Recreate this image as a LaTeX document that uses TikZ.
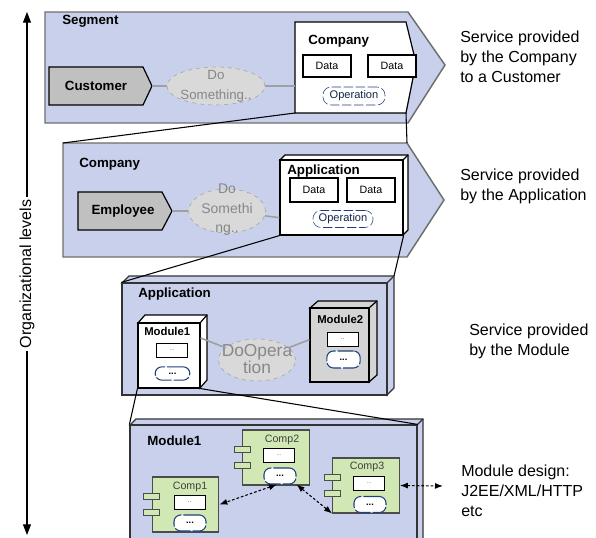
\documentclass[tikz,border=0pt]{standalone}
\usepackage{fontspec}
\setmainfont{Liberation Sans}
\usetikzlibrary{shapes.geometric}
\usetikzlibrary{arrows.meta}

\definecolor{lvlfill}{RGB}{201,208,236}
\definecolor{lvlline}{RGB}{110,110,110}
\definecolor{actfill}{RGB}{192,192,192}
\definecolor{usefill}{RGB}{217,217,217}
\definecolor{useline}{RGB}{160,160,160}
\definecolor{usetext}{RGB}{135,135,135}
\definecolor{opblue}{RGB}{31,63,127}
\definecolor{compfill}{RGB}{210,232,180}
\definecolor{modfill}{RGB}{212,212,212}

\tikzset{
  lvl/.style={draw=lvlline, fill=lvlfill, line width=1.1pt},
  actor/.style={draw=black, fill=actfill, line width=0.9pt},
  whitebox/.style={draw=black, fill=white, line width=0.9pt},
  usecase/.style={ellipse, draw=useline, fill=usefill, dashed, inner sep=0pt},
  usetxt/.style={text=usetext, align=center, inner sep=0pt},
  usel/.style={draw=useline, line width=1.2pt},
  lbl/.style={inner sep=0pt, font=\bfseries\fontsize{10}{12}\selectfont},
  smlbl/.style={inner sep=0pt, font=\bfseries\fontsize{8.5}{10}\selectfont},
  databox/.style={draw=black, fill=white, line width=0.9pt, inner sep=0pt, minimum width=36pt, font=\fontsize{8}{9}\selectfont},
  opbox/.style={draw=opblue, fill=white, rounded corners=6pt, dash pattern=on 7pt off 2pt, inner sep=0pt, text=opblue!60!black, font=\fontsize{8.3}{9}\selectfont},
  dotbox/.style={draw=black, fill=white, line width=0.6pt, inner sep=0pt, minimum width=23.25pt, minimum height=10.5pt, text=usetext, font=\fontsize{6}{6}\selectfont},
  opsmall/.style={draw=opblue, fill=white, rounded corners=5pt, dash pattern=on 12pt off 1.5pt, line width=0.8pt, inner sep=0pt, minimum width=24pt, minimum height=12pt, font=\bfseries\fontsize{7}{7}\selectfont},
  comp/.style={draw=black!70, fill=compfill, line width=0.8pt, inner sep=0pt, minimum width=50pt, minimum height=41.25pt},
  port/.style={draw=black!70, fill=compfill, line width=0.8pt, inner sep=0pt, minimum width=12pt, minimum height=4.5pt},
  comptxt/.style={inner sep=0pt, text=black!75, font=\fontsize{8}{9}\selectfont},
  zoomln/.style={draw=black, line width=0.8pt},
  msg/.style={draw=black, line width=0.8pt, dash pattern=on 2pt off 1.5pt, {Latex[length=6pt,width=4.5pt]}-{Latex[length=6pt,width=4.5pt]}},
  axis/.style={draw=black, line width=0.8pt, -{Triangle[length=8pt,width=6pt]}},
  svc/.style={inner sep=0pt, anchor=north west, align=left, font=\fontsize{12}{15}\selectfont}
}

\begin{document}
\begin{tikzpicture}[x=0.75pt,y=0.75pt,yscale=-1,xscale=1]
	\useasboundingbox (0,0) rectangle (596,538);
	\clip (0,0) rectangle (596,538);

	% Axis
	\coordinate (axtop) at (27,12);
	\coordinate (axbot) at (27,535);
	\node[rotate=90, inner sep=2pt, font=\fontsize{12}{14}\selectfont] (axlbl) at (27,274) {Organizational levels};
	\draw[axis] (axlbl.east) -- (axtop);
	\draw[axis] (axlbl.west) -- (axbot);

	%Segment level
	\draw[lvl] (45,12) -- (408,12) -- (445,65) -- (408,123) -- (45,123) -- cycle;
	\node[lbl, anchor=base west] (seglbl) at (62,25) {Segment};
	\draw[actor] (49,67) -- (143,67) -- (152,86) coordinate (custtip) -- (143,105) -- (49,105) -- cycle;
	\node[lbl] (cust) at (96,86) {Customer};
	\node[usecase, minimum width=73.5pt, minimum height=28.5pt] (ds1) at (216,86) {};
	\node[usetxt, font=\fontsize{10}{15}\selectfont] (ds1txt) at (ds1) {Do\\Something..};
	\draw[whitebox] (295,22) -- (406,22) -- (416,63) -- (406,113) coordinate (cose) -- (295,113) coordinate (cosw) -- cycle;
	\coordinate (cow) at (295,86);
	\node[lbl, anchor=base west] (colbl) at (308,45) {Company};
	\node[databox, minimum height=16.5pt] (cod1) at (327,66) {Data};
	\node[databox, minimum height=16.5pt] (cod2) at (392,66) {Data};
	\node[opbox, minimum width=46.5pt, minimum height=13.5pt] (coop) at (354,96) {Operation};
	\draw[usel] (custtip) -- (ds1);
	\draw[usel] (ds1) -- (cow);

	%Company level
	\draw[lvl] (63,143) coordinate (comnw) -- (407,143) coordinate (comne) -- (444,200) -- (407,257) -- (63,257) -- cycle;
	\node[lbl, anchor=base west] (comlbl) at (79,168) {Company};
	\draw[actor] (78,192) -- (162,192) -- (172,211) coordinate (emptip) -- (162,230) -- (78,230) -- cycle;
	\node[lbl] (emp) at (123,211) {Employee};
	\node[usecase, minimum width=57.75pt, minimum height=33pt] (ds2) at (227,211) {};
	\node[usetxt, font=\fontsize{10.5}{14.6}\selectfont] (ds2txt) at (227,210) {Do\\Somethi\\ng..};
	\draw[whitebox] (280,160) -- ++(5,-5) -- ++(123,0) -- ++(0,75) -- (403,235) -- (403,160) -- cycle;
	\draw[whitebox] (403,160) -- ++(5,-5);
	\node[whitebox, inner sep=0pt, minimum width=92.25pt, minimum height=56.25pt] (app) at (341.5,197.5) {};
	\node[lbl, anchor=base west] (applbl) at (287,175) {Application};
	\node[databox, minimum height=18pt] (apd1) at (314,190) {Data};
	\node[databox, minimum height=18pt] (apd2) at (371,190) {Data};
	\node[opbox, minimum width=45pt, minimum height=12.75pt] (apop) at (343,219) {Operation};
	\draw[usel] (emptip) -- (ds2);
	\draw[usel] (ds2) -- (app.198);
	\draw[zoomln] (cosw) -- (comnw);
	\draw[zoomln] (cose) -- (comne);

	%Application level
	\draw[lvl, line width=0.9pt, draw=black!80] (122,283) -- ++(7,-7) -- ++(265,0) coordinate (lv3bne) -- ++(0,112) -- (387,395) -- (387,283) -- cycle;
	\draw[black!80, line width=0.9pt] (387,283) -- ++(7,-7);
	\node[lvl, line width=0.9pt, draw=black!80, inner sep=0pt, minimum width=198.75pt, minimum height=84pt] (lv3) at (254.5,339) {};
	\node[lbl, anchor=base west] (lv3lbl) at (138,297) {Application};
	\draw[zoomln] (app.south west) -- (lv3.north west);
	\draw[zoomln] (app.south east) -- (lv3bne);

	\draw[whitebox] (138,323) -- ++(7,-8) -- ++(62,0) -- ++(0,65) -- (200,388) -- (200,323) -- cycle;
	\draw[whitebox] (200,323) -- ++(7,-8);
	\node[whitebox, inner sep=0pt, minimum width=46.5pt, minimum height=48.75pt] (m1) at (169,355.5) {};
	\node[smlbl, anchor=base west] (m1lbl) at (144,335) {Module1};
	\node[dotbox] (m1d) at (172,350.5) {..};
	\node[opsmall, minimum width=26pt, minimum height=10pt] (m1op) at (172.5,373.5) {...};

	\draw[whitebox, fill=modfill] (310,308) -- ++(8,-7) -- ++(59,0) -- ++(0,74) -- (369,382) -- (369,308) -- cycle;
	\draw[whitebox] (369,308) -- ++(8,-7);
	\node[whitebox, fill=modfill, inner sep=0pt, minimum width=44.25pt, minimum height=55.5pt] (m2) at (339.5,345) {};
	\node[smlbl, anchor=base west] (m2lbl) at (317,324) {Module2};
	\node[dotbox] (m2d) at (342.5,339.5) {..};
	\node[opsmall, minimum width=25pt, minimum height=12.75pt] (m2op) at (343.5,359.5) {...};

	\node[usecase, minimum width=57.75pt, minimum height=31.5pt] (doop) at (257,360) {};
	\node[usetxt, font=\fontsize{13}{12.75}\selectfont] (dooptxt) at (257,359) {DoOpera\\tion};
	\draw[usel] (m1.29) -- (doop);
	\draw[usel] (doop) -- (m2.170);

	%Module level
	\draw[lvl, line width=0.9pt, draw=black!80] (130,425) -- ++(6,-6) -- ++(287,0) -- ++(0,130) -- (417,555) -- (417,425) -- cycle;
	\draw[black!80, line width=0.9pt] (417,425) -- ++(6,-6);
	\node[lvl, line width=0.9pt, draw=black!80, inner sep=0pt, minimum width=215.25pt, minimum height=97.5pt] (lv4) at (273.5,490) {};
	\node[lbl, anchor=base west] (lv4lbl) at (147,445) {Module1};
	\draw[zoomln] (m1.south west) -- (lv4.north west);
	\draw[zoomln] (m1.south east) -- (lv4.north east);

	%Components
	\node[comp] (c1) at (185.5,504.5) {};
	\node[port] (c1p1) at ([yshift=6pt]c1.west) {};
	\node[port] (c1p2) at ([yshift=-6pt]c1.west) {};
	\node[comptxt] (c1lbl) at (190,487) {Comp1};
	\node[dotbox] (c1d) at (189.5,502) {..};
	\node[opsmall] (c1op) at (190,523) {...};

	\node[comp] (c2) at (276,457.5) {};
	\node[port] (c2p1) at ([yshift=6pt]c2.west) {};
	\node[port] (c2p2) at ([yshift=-6pt]c2.west) {};
	\node[comptxt] (c2lbl) at (282,440) {Comp2};
	\node[dotbox] (c2d) at (279,455.5) {..};
	\node[opsmall] (c2op) at (280,476) {...};

	\node[comp] (c3) at (366,485.5) {};
	\node[port] (c3p1) at ([yshift=6pt]c3.west) {};
	\node[port] (c3p2) at ([yshift=-6pt]c3.west) {};
	\node[comptxt] (c3lbl) at (367,467) {Comp3};
	\node[dotbox] (c3d) at (369,483) {..};
	\node[opsmall] (c3op) at (370,504.5) {...};

	\coordinate (ext) at (443,486);
	\draw[msg] (c2op.250) -- (c1.east);
	\draw[msg] (c2op.south east) -- (c3.south west);
	\draw[msg] (c3.east) -- (ext);

	% Text Node
	\node[svc] (svc1) at (460,31) {Service provided\\by the Company\\to a Customer};
	% Text Node
	\node[svc] (svc2) at (460,169) {Service provided\\by the Application};
	% Text Node
	\node[svc] (svc3) at (469,324) {Service provided\\by the Module};
	% Text Node
	\node[svc] (svc4) at (461,465) {Module design:\\J2EE/XML/HTTP\\etc};
\end{tikzpicture}
\end{document}
